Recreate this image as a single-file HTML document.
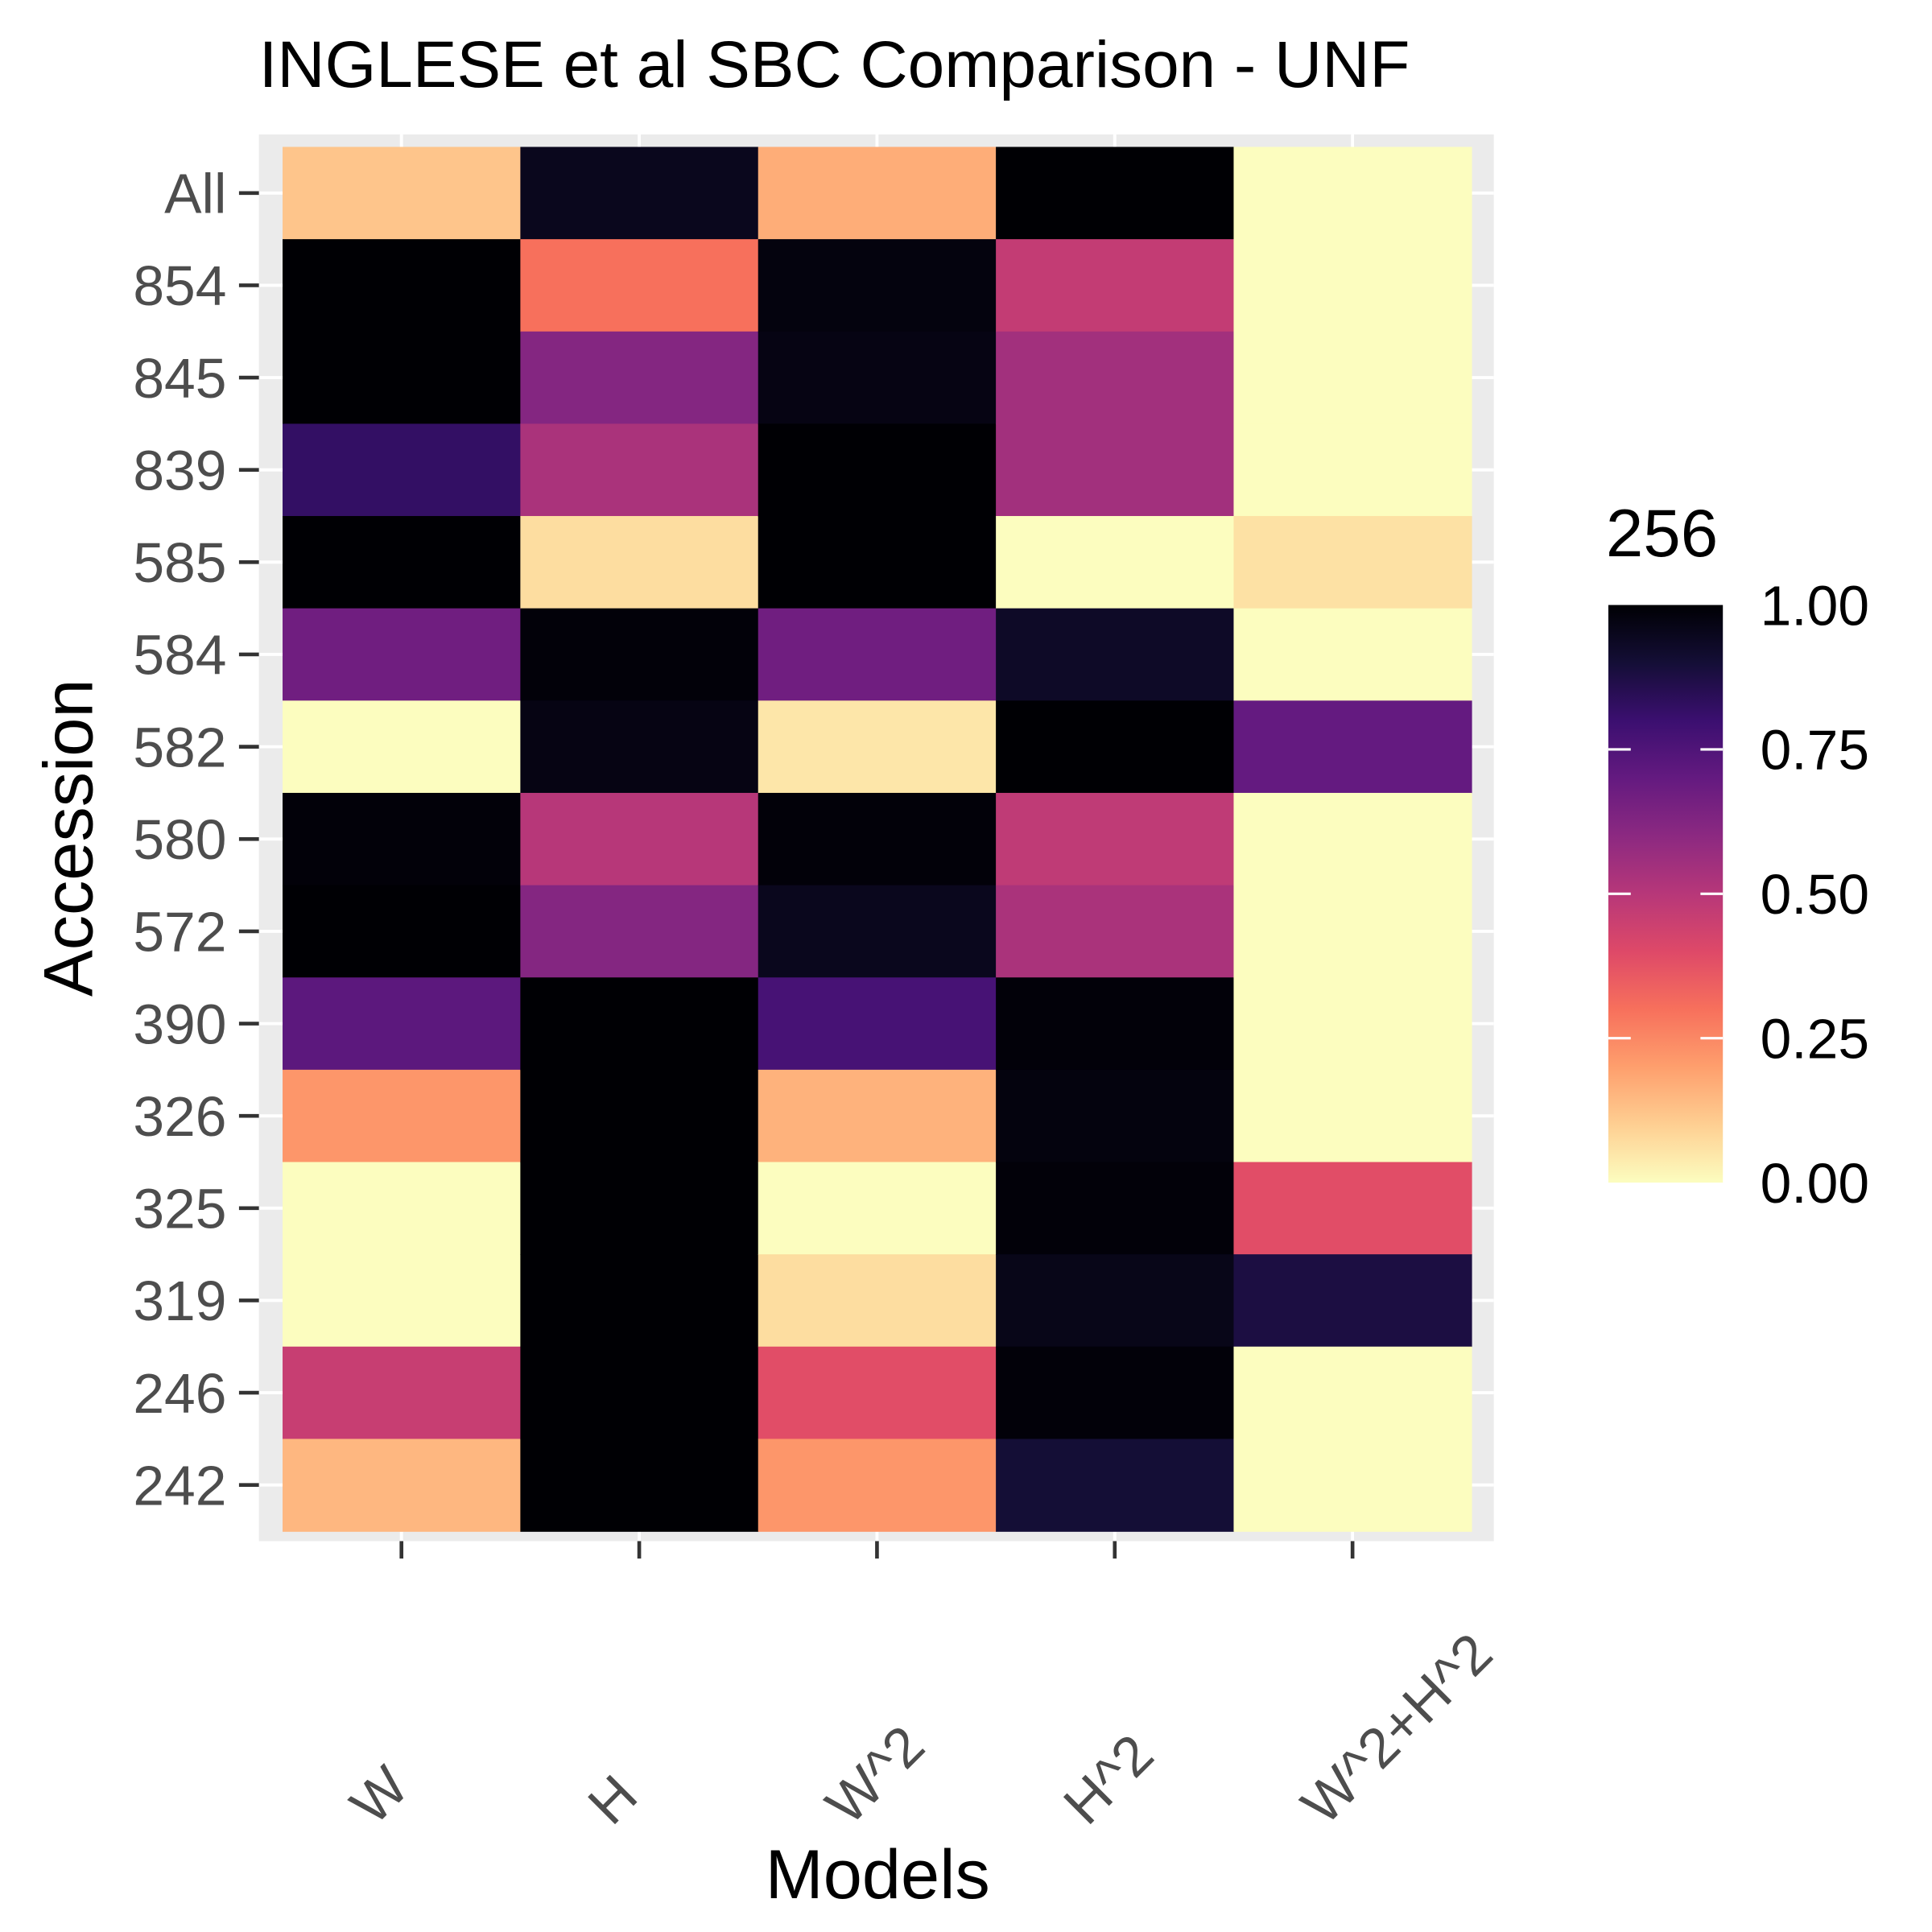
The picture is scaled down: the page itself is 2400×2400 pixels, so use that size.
<!DOCTYPE html>
<html><head><meta charset="utf-8"><style>
html,body{margin:0;padding:0;background:#fff;}
svg{display:block;font-family:"Liberation Sans",Arial,sans-serif;}
</style></head><body>
<svg id="chart" width="2400" height="2400" viewBox="0 0 1552 1552" xmlns="http://www.w3.org/2000/svg">
<defs>
<linearGradient id="magma" x1="0" y1="1" x2="0" y2="0">
<stop offset="0" stop-color="#fcfdbf"/><stop offset="0.1" stop-color="#fecf92"/><stop offset="0.2" stop-color="#fe9f6d"/><stop offset="0.3" stop-color="#f7705c"/><stop offset="0.4" stop-color="#de4968"/><stop offset="0.5" stop-color="#b73779"/><stop offset="0.6" stop-color="#8c2981"/><stop offset="0.7" stop-color="#641a80"/><stop offset="0.8" stop-color="#3b0f70"/><stop offset="0.9" stop-color="#140e36"/><stop offset="1" stop-color="#000004"/>
</linearGradient>
</defs>
<text x="208" y="70" font-size="53" fill="#000">INGLESE et al SBC Comparison - UNF</text>
<rect x="208" y="108" width="992" height="1130" fill="#ebebeb"/>
<g id="grid"></g>
<g id="tiles"></g>
<g id="axes"></g>
<text transform="translate(74,673) rotate(-90)" text-anchor="middle" font-size="56" fill="#000">Accession</text>
<text x="705" y="1525" text-anchor="middle" font-size="56" fill="#000">Models</text>
<g id="legend">
<text x="1290" y="447" font-size="54" fill="#000">256</text>
<rect x="1292" y="486" width="92" height="464" fill="url(#magma)"/>
</g>
</svg>
<script>
const models = ["W","H","W^2","H^2","W^2+H^2"];
const accessions = ["All","854","845","839","585","584","582","580","572","390","326","325","319","246","242"];
const valW   = [0.12,1.0,1.0,0.82,1.0,0.67,0.0,0.99,1.0,0.72,0.22,0.0,0.0,0.46,0.15];
const valH   = [0.95,0.3,0.62,0.53,0.07,0.99,0.97,0.5,0.62,1.0,1.0,1.0,1.0,1.0,1.0];
const valW2  = [0.17,0.98,0.97,1.0,1.0,0.67,0.05,0.99,0.95,0.77,0.16,0.0,0.07,0.39,0.22];
const valH2  = [1.0,0.47,0.55,0.55,0.0,0.93,1.0,0.48,0.53,0.99,0.98,0.99,0.96,0.99,0.9];
const valWH  = [0.0,0.0,0.0,0.0,0.06,0.0,0.7,0.0,0.0,0.0,0.0,0.39,0.88,0.0,0.0];
const legendTicks = [0,0.25,0.5,0.75,1.0];
const legendLabels = ["0.00","0.25","0.50","0.75","1.00"];

const series=[valW,valH,valW2,valH2,valWH];
const NS="http://www.w3.org/2000/svg";
const x0=227,cw=191,y0=118,rh=1112/15;
const xc=i=>x0+cw*(i+0.5);
const yc=j=>y0+rh*(j+0.5);
const ly=v=>950-v*464;
const stops=["#fcfdbf","#fecf92","#fe9f6d","#f7705c","#de4968","#b73779","#8c2981","#641a80","#3b0f70","#140e36","#000004"];
function hex(h){return [1,3,5].map(k=>parseInt(h.substr(k,2),16));}
function color(v){v=Math.max(0,Math.min(1,v));const t=v*10,i=Math.min(9,Math.floor(t)),f=t-i;
const a=hex(stops[i]),b=hex(stops[i+1]);return "rgb("+a.map((c,k)=>Math.round(c+(b[k]-c)*f)).join(",")+")";}
function mk(tag,attrs,parent){const e=document.createElementNS(NS,tag);for(const k in attrs)e.setAttribute(k,attrs[k]);parent.appendChild(e);return e;}
const grid=document.getElementById('grid'),tiles=document.getElementById('tiles'),axes=document.getElementById('axes'),legend=document.getElementById('legend');
models.forEach((m,i)=>{const l=mk('line',{x1:xc(i),x2:xc(i),y1:108,y2:1238,stroke:"#fff","stroke-width":2.5},grid);

});
accessions.forEach((a,j)=>{const l=mk('line',{x1:208,x2:1200,y1:yc(j),y2:yc(j),stroke:"#fff","stroke-width":2.5},grid);

});
series.forEach((vals,i)=>{vals.forEach((v,j)=>{
const r=mk('rect',{x:x0+cw*i,y:y0+rh*j,width:cw+0.5,height:rh+0.5,fill:color(v)},tiles);

});});
accessions.forEach((a,j)=>{
const t=mk('line',{x1:192,x2:208,y1:yc(j),y2:yc(j),stroke:"#333","stroke-width":3},axes);


const tx=mk('text',{x:182,y:yc(j)+16,"text-anchor":"end","font-size":45,fill:"#4d4d4d"},axes);tx.textContent=a;

});
models.forEach((m,i)=>{
const t=mk('line',{x1:xc(i),x2:xc(i),y1:1238,y2:1252,stroke:"#333","stroke-width":3},axes);


const tx=mk('text',{transform:"translate("+(xc(i)-22)+",1468) rotate(-45)","font-size":45,fill:"#4d4d4d"},axes);tx.textContent=m;

});
legendTicks.forEach((v,k)=>{
if(v>0&&v<1){
const a=mk('line',{x1:1292,x2:1310,y1:ly(v),y2:ly(v),stroke:"#fff","stroke-width":2},legend);


const b=mk('line',{x1:1366,x2:1384,y1:ly(v),y2:ly(v),stroke:"#fff","stroke-width":2},legend);

}
const tx=mk('text',{x:1414,y:ly(v)+16,"font-size":45,fill:"#000"},legend);tx.textContent=legendLabels[k];

});
</script>
</body></html>
